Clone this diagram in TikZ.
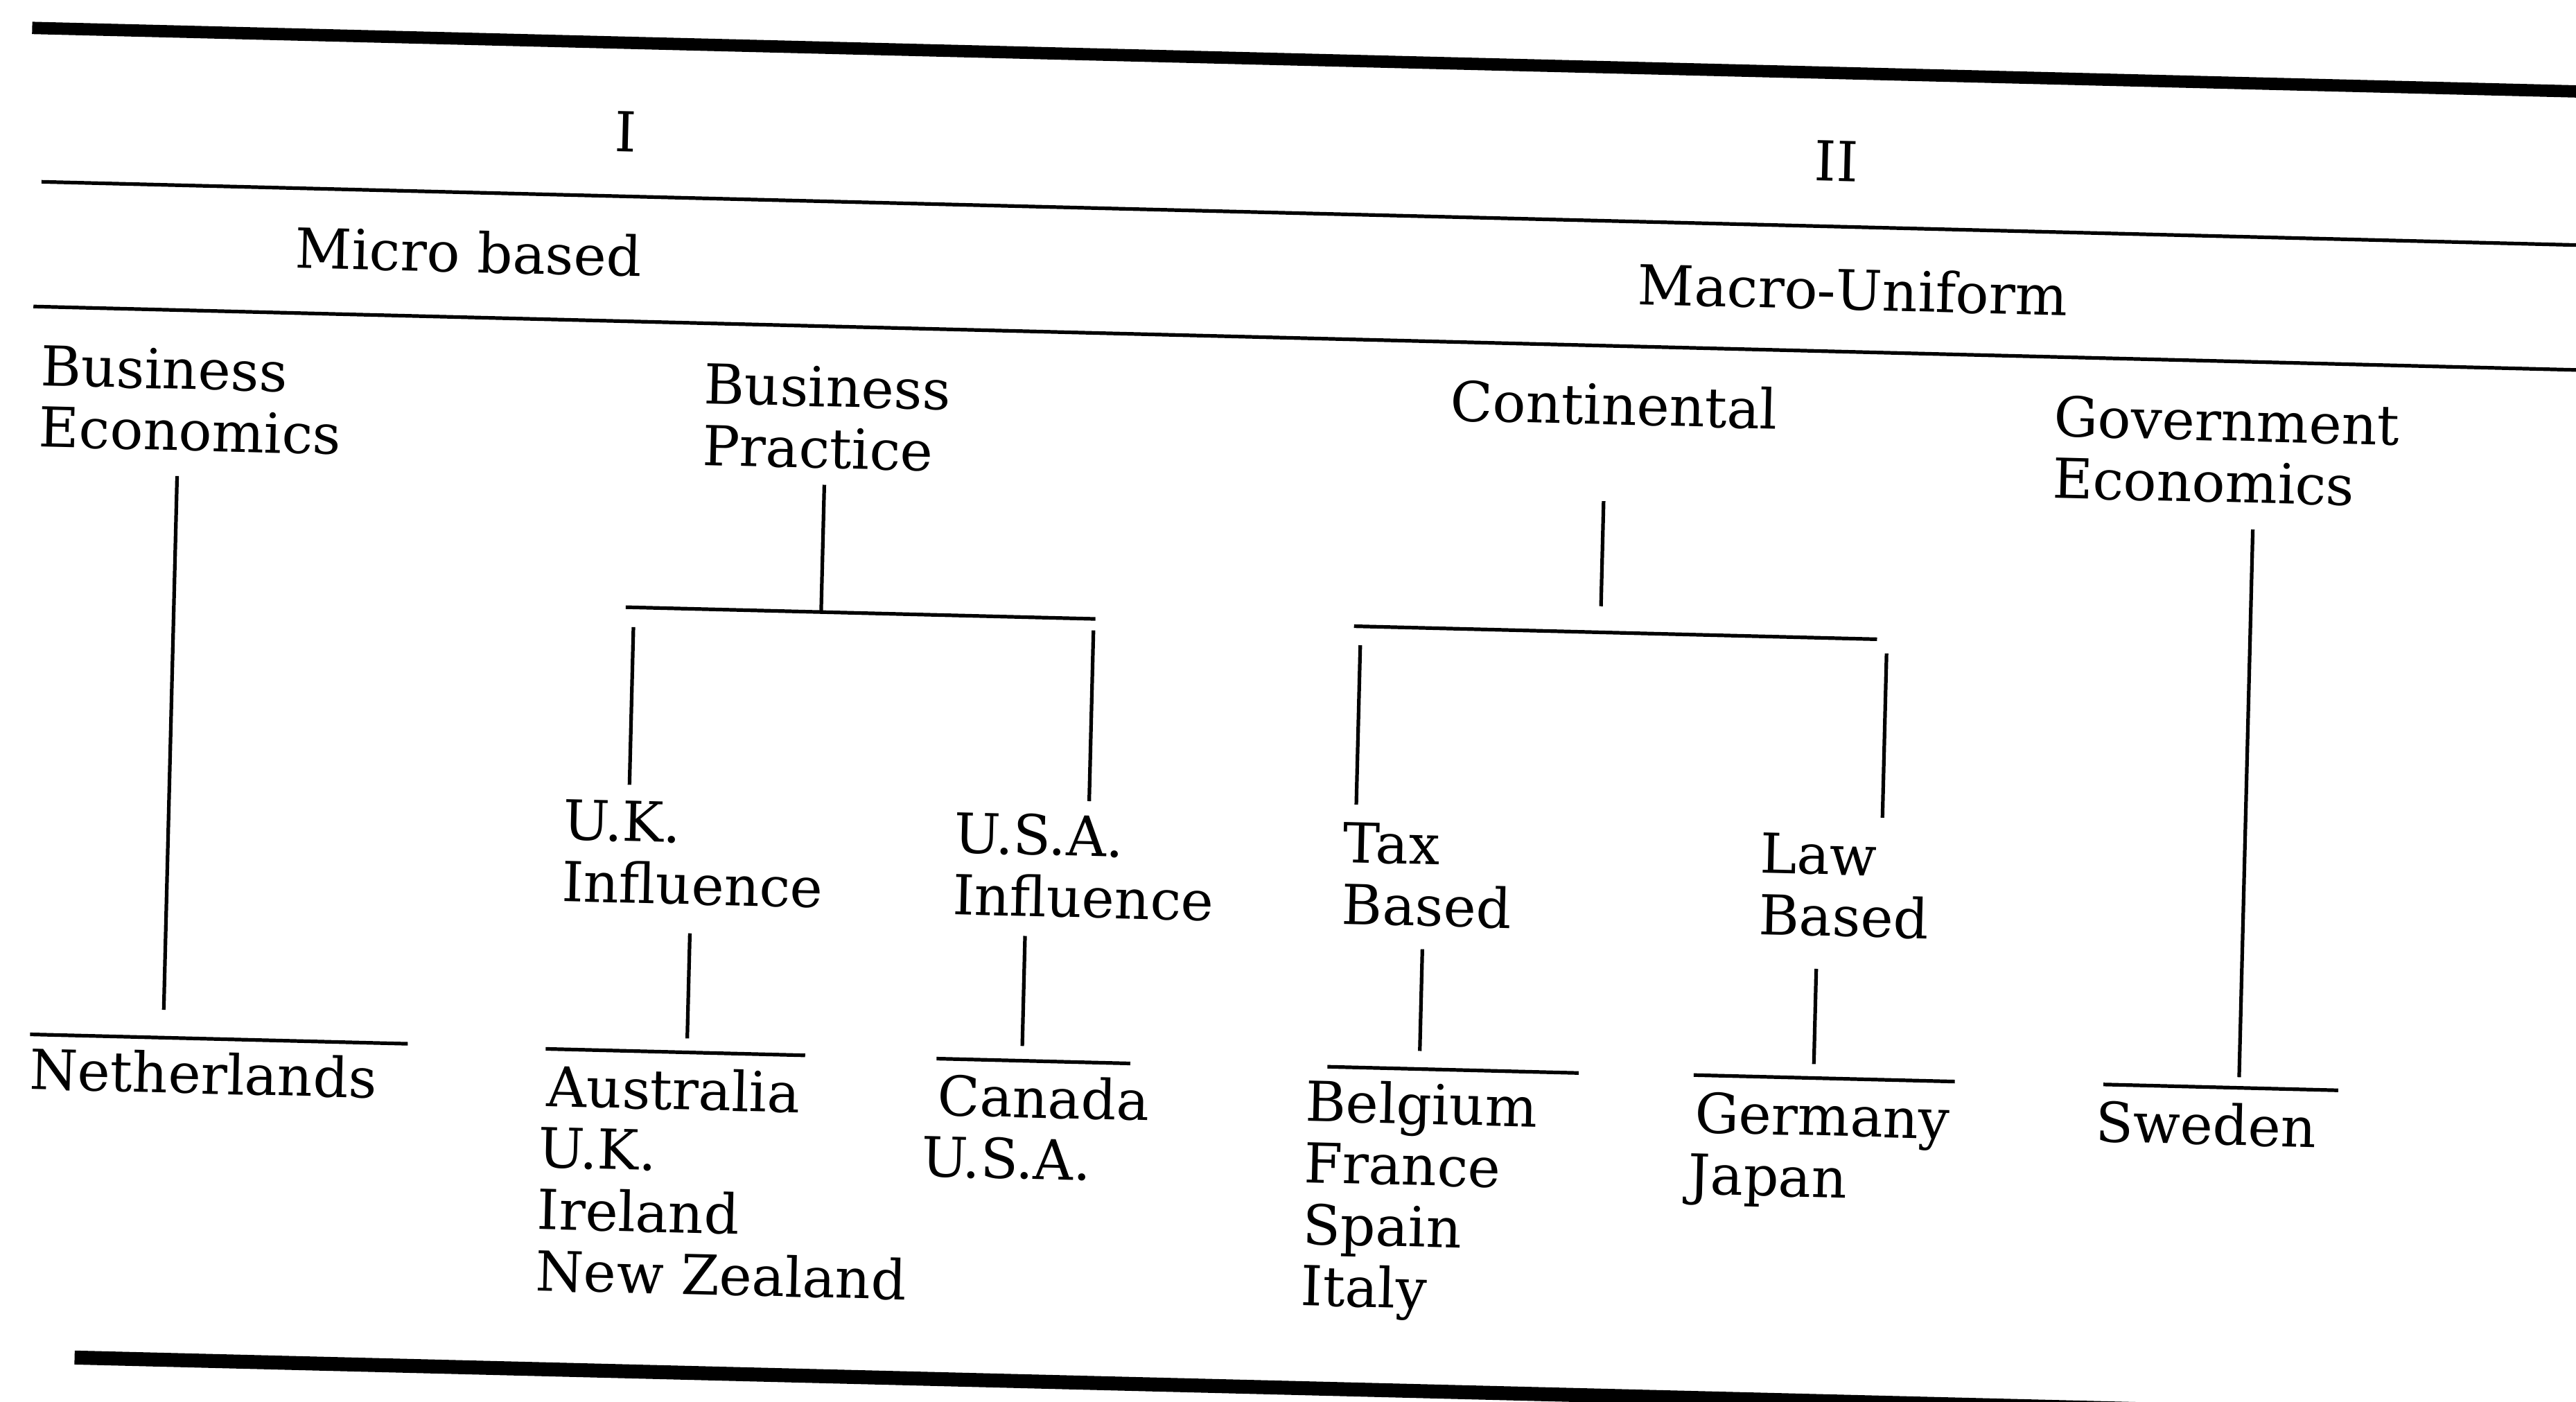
\documentclass[tikz,border=0pt]{standalone}
\usepackage{fontspec}
\setmainfont{DejaVu Serif}
\begin{document}
\begin{tikzpicture}[x=0.02cm, y=-0.02cm,
	every node/.style={inner sep=0pt, font=\fontsize{19.1pt}{21.3pt}\selectfont},
	lbl/.style={anchor=base west, align=left},
	ttl/.style={anchor=base},
	heavy/.style={line width=0.15cm},
	thin/.style={line width=0.044cm}]
\useasboundingbox (0,0) rectangle (1568,853);
\begin{scope}[rotate=-1.43, transform shape]
	% headings (base of a block = base of its last line)
	\node[ttl] (numI) at (383,83) {I};
	\node[ttl] (numII) at (1120,82.5) {II};
	\node[ttl] (micro) at (289,158.5) {Micro based};
	\node[ttl] (macro) at (1132,160.5) {Macro-Uniform};
	\node[lbl] (buseco) at (30,271.4) {Business\\Economics};
	\node[lbl] (buspra) at (434,272.4) {Business\\Practice};
	\node[ttl] (contl) at (988.5,234) {Continental};
	\node[lbl] (goveco) at (1256,271.9) {Government\\Economics};
	% second level
	\node[lbl] (ukinf) at (355,539.9) {U.K.\\Influence};
	\node[lbl] (usainf) at (593,541.9) {U.S.A.\\Influence};
	\node[lbl] (taxb) at (830,541.9) {Tax\\Based};
	\node[lbl] (lawb) at (1084,541.9) {Law\\Based};
	% countries
	\node[lbl] (neth) at (34,662.5) {Netherlands};
	\node[lbl] (ukgrp) at (345,777.2) {\hspace*{0.08cm}Australia\\U.K.\\Ireland\\New Zealand};
	\node[lbl] (usagrp) at (578,701.9) {\hspace*{0.18cm}Canada\\U.S.A.};
	\node[lbl] (taxgrp) at (811,774.7) {Belgium\\France\\Spain\\Italy};
	\node[lbl] (lawgrp) at (1045,700.9) {\hspace*{0.06cm}Germany\\Japan};
	\node[lbl] (swe) at (1292,663) {Sweden};

	% rules of the table
	\coordinate (r1a) at (20,16.5);  \coordinate (r1b) at (1600,16.5);
	\coordinate (r2a) at (28,110);   \coordinate (r2b) at (1600,110);
	\coordinate (r3a) at (25,186);   \coordinate (r3b) at (1600,186);
	\coordinate (r4a) at (66,825);   \coordinate (r4b) at (1600,825);
	\draw[heavy] (r1a) -- (r1b);
	\draw[thin] (r2a) -- (r2b);
	\draw[thin] (r3a) -- (r3b);
	\draw[line width=0.17cm] (r4a) -- (r4b);

	% stems and bars
	\coordinate (be1) at (115,287);    \coordinate (be2) at (115,612);
	\coordinate (nb1) at (34,629);     \coordinate (nb2) at (264,629);
	\coordinate (bp1) at (509,282.5);  \coordinate (bp2) at (509,360);
	\coordinate (bpl) at (390,360);    \coordinate (bpr) at (676,360);
	\coordinate (uk1) at (395,372);    \coordinate (uk2) at (395,468);
	\coordinate (us1) at (675,367);    \coordinate (us2) at (675,471);
	\coordinate (uks1) at (434,557.5); \coordinate (uks2) at (434,621.5);
	\coordinate (ukb1) at (348,630);   \coordinate (ukb2) at (506,630);
	\coordinate (uss1) at (638,554);   \coordinate (uss2) at (638,621);
	\coordinate (usb1) at (586,630);   \coordinate (usb2) at (704,630);
	\coordinate (ct1) at (983.5,280.6); \coordinate (ct2) at (983.5,344.6);
	\coordinate (ctl) at (833.5,360.5); \coordinate (ctr) at (1152,360.5);
	\coordinate (tx1) at (837.6,372);  \coordinate (tx2) at (837.6,469);
	\coordinate (lw1) at (1158,369);   \coordinate (lw2) at (1158,469);
	\coordinate (txs1) at (880,556);   \coordinate (txs2) at (880,618);
	\coordinate (txb1) at (824,629);   \coordinate (txb2) at (977,629);
	\coordinate (lws1) at (1120,562);  \coordinate (lws2) at (1120,620);
	\coordinate (lwb1) at (1047,628.5); \coordinate (lwb2) at (1206,628.5);
	\coordinate (gv1) at (1379,288);   \coordinate (gv2) at (1379,621.5);
	\coordinate (swb1) at (1296.5,628); \coordinate (swb2) at (1439.5,628);
	\begin{scope}[thin]
		\draw (be1) -- (be2);
		\draw (nb1) -- (nb2);
		\draw (bp1) -- (bp2);
		\draw (bpl) -- (bpr);
		\draw (uk1) -- (uk2);
		\draw (us1) -- (us2);
		\draw (uks1) -- (uks2);
		\draw (ukb1) -- (ukb2);
		\draw (uss1) -- (uss2);
		\draw (usb1) -- (usb2);
		\draw (ct1) -- (ct2);
		\draw (ctl) -- (ctr);
		\draw (tx1) -- (tx2);
		\draw (lw1) -- (lw2);
		\draw (txs1) -- (txs2);
		\draw (txb1) -- (txb2);
		\draw (lws1) -- (lws2);
		\draw (lwb1) -- (lwb2);
		\draw (gv1) -- (gv2);
		\draw (swb1) -- (swb2);
	\end{scope}
\end{scope}
\end{tikzpicture}
\end{document}
